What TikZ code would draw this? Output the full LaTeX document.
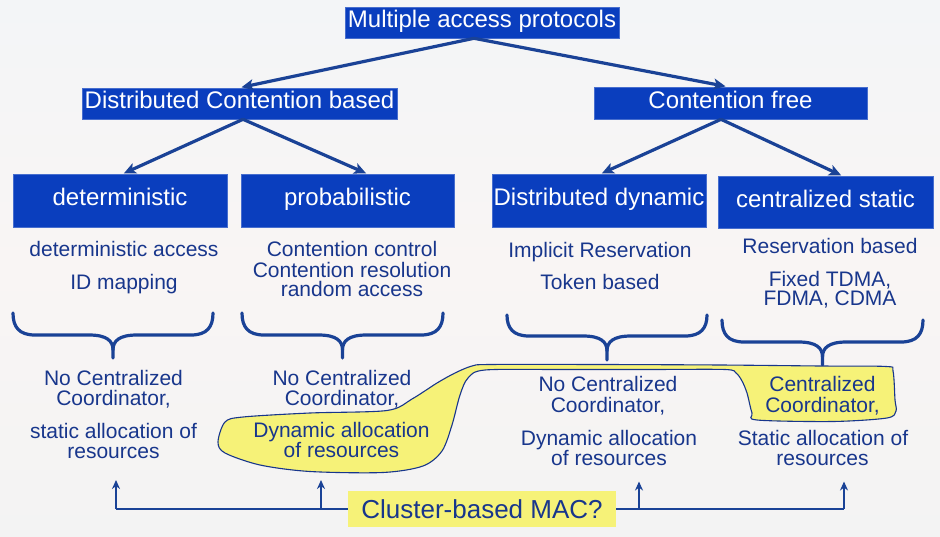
\documentclass[tikz,border=0pt]{standalone}
\usepackage{fontspec}
\setmainfont{Liberation Sans}
\usetikzlibrary{arrows.meta,calc}
\definecolor{boxblue}{RGB}{10,62,190}
\definecolor{navy}{RGB}{24,54,140}
\definecolor{arrblue}{RGB}{26,66,150}
\definecolor{hiyellow}{RGB}{246,242,120}
\definecolor{bgtop}{RGB}{243,245,247}
\definecolor{bgmid}{RGB}{249,245,244}
\definecolor{bgbot}{RGB}{243,243,243}
\newcommand\btxt[4]{\node[body] (#1) at (#2,#3) {#4};}
\newcommand\mybrace[5]{%
  \draw[bracel] (#1,#3) .. controls (#1,{#4-8}) and ({#1+6},#4) .. ({#1+22},#4)
     -- ({(#1+#2)/2-24},#4) .. controls ({(#1+#2)/2-6},#4) and ({(#1+#2)/2},{#4+6}) .. ({(#1+#2)/2},{#4+15})
     -- ({(#1+#2)/2},#5);
  \draw[bracel] (#2,#3) .. controls (#2,{#4-8}) and ({#2-6},#4) .. ({#2-22},#4)
     -- ({(#1+#2)/2+24},#4) .. controls ({(#1+#2)/2+6},#4) and ({(#1+#2)/2},{#4+6}) .. ({(#1+#2)/2},{#4+15});
}
\begin{document}
\begin{tikzpicture}[x=1pt,y=-1pt,
  bluebox/.style={fill=boxblue, draw=boxblue!75!white, line width=0.6pt, text=white,
    font=\fontsize{24}{26}\selectfont, inner sep=0pt, text height=17pt, text depth=6pt},
  treearr/.style={draw=arrblue, line width=3.2pt, -{Stealth[length=12pt,width=11pt,inset=3pt]}},
  bracel/.style={draw=arrblue, line width=3.2pt, line cap=round, line join=round},
  body/.style={text=navy, font=\fontsize{21}{20}\selectfont, inner sep=0pt, anchor=base},
  uparr/.style={draw=arrblue, line width=2.6pt, -{Stealth[length=9pt,width=8pt]}},
  hline/.style={draw=arrblue, line width=1.6pt},
]
\shade[top color=bgtop, bottom color=bgbot, middle color=bgmid] (0,0) rectangle (940,537);
\useasboundingbox (0,0) rectangle (940,537);

% boxes
\node[bluebox, minimum width=274pt, minimum height=31pt] (top) at (482,22.5) {Multiple access protocols};
\node[bluebox, minimum width=315pt, minimum height=31pt] (dcb) at (239.5,103.5) {Distributed Contention based};
\node[bluebox, minimum width=273pt, minimum height=32pt] (cf) at (730.5,103) {Contention free};
\node[bluebox, minimum width=214pt, minimum height=53pt] (det) at (120,200.5) {deterministic};
\node[bluebox, minimum width=213pt, minimum height=53pt] (prob) at (347.5,200.5) {probabilistic};
\node[bluebox, minimum width=214pt, minimum height=53pt] (dd) at (599,200.5) {Distributed dynamic};
\node[bluebox, minimum width=215pt, minimum height=52pt] (cs) at (825.5,202) {centralized static};

% tree arrows
\draw[treearr, shorten >=2pt] ([xshift=-8pt]top.south) -- (dcb.north);
\draw[treearr, shorten >=2pt] ([xshift=-8pt]top.south) -- ([xshift=-3pt]cf.north);
\draw[treearr, shorten >=1pt] ([xshift=3.5pt]dcb.south) -- ([xshift=3pt]det.north);
\draw[treearr, shorten >=1pt] ([xshift=3.5pt]dcb.south) -- ([xshift=19.5pt]prob.north);
\draw[treearr, shorten >=1pt] ([xshift=-9.5pt]cf.south) -- ([xshift=2pt]dd.north);
\draw[treearr, shorten >=1pt] ([xshift=-9.5pt]cf.south) -- ([xshift=16.5pt]cs.north);

% texts under boxes
\btxt{t11}{124}{256.7}{deterministic access}
\btxt{t12}{124}{290}{ID mapping}
\btxt{t21}{352}{256.7}{Contention control}
\btxt{t22}{352}{277.3}{Contention resolution}
\btxt{t23}{352}{296.7}{random access}
\btxt{t31}{600}{257.3}{Implicit Reservation}
\btxt{t32}{600}{290}{Token based}
\btxt{t41}{830}{253.3}{Reservation based}
\btxt{t42}{830}{287}{Fixed TDMA,}
\btxt{t43}{830}{306}{FDMA, CDMA}

% braces
\mybrace{13}{213}{313}{335}{358}
\mybrace{242}{443}{313}{335}{358}
\mybrace{507}{707}{315}{336}{360}
\mybrace{722}{923}{320}{342}{365}

% yellow highlight
\draw[draw=navy, line width=1.1pt, fill=hiyellow] plot[smooth cycle, tension=0.5] coordinates {
 (218,442) (225,422) (243,417) (310,413) (387,410.5) (412,399) (437,383) (455,373) (472,366)
 (490,364.5) (600,364.5) (720,365) (820,366) (886,366.5) (893,371) (895,400) (896,411)
 (887,418) (833,421.5) (757,420) (752,413) (747,393) (742,381) (736,373) (725,369.5)
 (650,369.5) (560,369.5) (485,370) (468,378) (460,395) (452,425) (442,451) (423,466)
 (383,472.5) (310,471.5) (260,465) (225,453)
};

% lower texts
\btxt{b11}{113.5}{385}{No Centralized}
\btxt{b12}{113.5}{405.5}{Coordinator,}
\btxt{b13}{113.5}{438}{static allocation of}
\btxt{b14}{113.5}{458}{resources}
\btxt{b21}{342}{385}{No Centralized}
\btxt{b22}{342}{405.5}{Coordinator,}
\btxt{b23}{341.5}{437.7}{Dynamic allocation}
\btxt{b24}{341.5}{457.7}{of resources}
\btxt{b31}{608}{391.7}{No Centralized}
\btxt{b32}{608}{412.7}{Coordinator,}
\btxt{b33}{609}{445.7}{Dynamic allocation}
\btxt{b34}{609}{465.7}{of resources}
\btxt{b41}{822.5}{391.7}{Centralized}
\btxt{b42}{822.5}{412.7}{Coordinator,}
\btxt{b43}{823}{445.7}{Static allocation of}
\btxt{b44}{822.5}{465.5}{resources}

% cluster
\node[fill=hiyellow, text=navy, font=\fontsize{26}{28}\selectfont, minimum width=268pt,
  minimum height=36pt, inner sep=0pt] (cluster) at (482,509) {Cluster-based MAC?};
\coordinate (j1) at (116,509);
\coordinate (j2) at (321,509);
\coordinate (j3) at (639,509);
\coordinate (j4) at (844,509);
\coordinate (u1) at (116,480);
\coordinate (u2) at (321,480);
\coordinate (u3) at (639,481.5);
\coordinate (u4) at (844,481.5);
\draw[hline] (cluster.west) -- (j1);
\draw[hline] (cluster.east) -- (j4);
\draw[uparr] (j1) -- (u1);
\draw[uparr] (j2) -- (u2);
\draw[uparr] (j3) -- (u3);
\draw[uparr] (j4) -- (u4);
\end{tikzpicture}
\end{document}
